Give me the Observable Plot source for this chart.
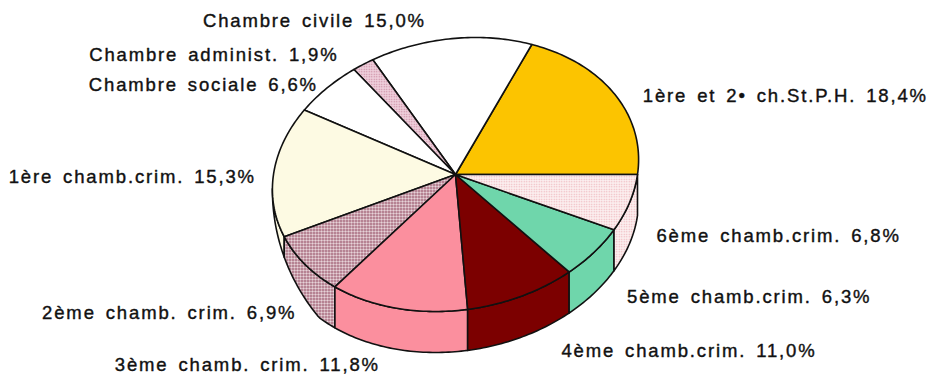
<!DOCTYPE html>
<html><head><meta charset="utf-8">
<style>html,body{margin:0;padding:0;background:#fff}</style>
<script src="https://cdn.jsdelivr.net/npm/d3@7"></script>
<script src="https://cdn.jsdelivr.net/npm/@observablehq/plot@0.6"></script>
</head><body><div id="c"></div>
<script>
// Data: label text and printed value of each slice, in counter-clockwise order from 3 o'clock
const names = ["1ère et 2• ch.St.P.H.","Chambre civile","Chambre administ.","Chambre sociale","1ère chamb.crim.","2ème chamb. crim.","3ème chamb. crim.","4ème chamb.crim.","5ème chamb.crim.","6ème chamb.crim."];
const printed = ["18,4","15,0","1,9","6,6","15,3","6,9","11,8","11,0","6,3","6,8"];
// Share of the disc each slice actually occupies in the picture (slightly differs from the printed value)
const drawnShare = [19.9,14.3,1.9,6.1,15.3,7.8,12.5,9.6,6.0,6.6];

// Styling and layout, separate from the data
const fills = ["#fcc400","#ffffff","url(#fine)","#ffffff","#fdfae3","url(#coarse)","#fb8f9e","#7c0000","#6fd6ab","url(#soft)"];
const labelDx = [28,-249,-274,-238,-265,-263,-282,40,33,27];
const labelDy = [2,-18,-9,-3,4,49,57,55,45,33];
const cx = 455, cy = 174, rx = 182, ry = 137, shear = 20, depth = 41;
const rad = d => d * Math.PI / 180;
const rim = t => ({x: cx + rx * Math.cos(rad(t)) + shear * Math.sin(rad(t)), y: cy - ry * Math.sin(rad(t))});
const wallDepth = t => depth * Math.min(1, Math.max(0, (t - 186) / 42));
const low = t => { const p = rim(t); return {x: p.x, y: p.y + wallDepth(t)}; };
const steps = (a, b) => { const n = Math.max(1, Math.ceil(Math.abs(b - a))); return d3.range(n + 1).map(i => a + (b - a) * i / n); };

let acc = 0;
const slices = drawnShare.map((s, i) => { const a = acc * 3.6; acc += s; return {i, a, b: acc * 3.6, mid: (a + acc * 3.6) / 2}; });

const lineOpts = {x: "x", y: "y", stroke: "#111", strokeWidth: 1.6, strokeLinejoin: "round"};
const marks = [];
// side wall
for (const s of slices) {
  const a = Math.max(s.a, 186), b = s.b;
  if (b <= 186) continue;
  const ts = steps(a, b);
  const poly = [...ts.map(rim), ...ts.slice().reverse().map(low)];
  poly.push(poly[0]);
  marks.push(Plot.line(poly, {...lineOpts, fill: fills[s.i]}));
}
// top faces
for (const s of slices) {
  const poly = [{x: cx, y: cy}, ...steps(s.a, s.b).map(rim), {x: cx, y: cy}];
  marks.push(Plot.line(poly, {...lineOpts, fill: fills[s.i]}));
}
// labels
const labels = slices.map(s => {
  const p = rim(s.mid);
  return {x: p.x + labelDx[s.i], y: p.y + labelDy[s.i], text: `${names[s.i]} ${printed[s.i]}%`};
});
marks.push(Plot.text(labels, {x: "x", y: "y", text: "text", textAnchor: "start", fontSize: 18.5, fontFamily: "Liberation Sans", fill: "#111", stroke: "#111", strokeWidth: 0.4}));

const plot = Plot.plot({
  width: 932, height: 376, margin: 0,
  x: {domain: [0, 932], range: [0, 932], axis: null},
  y: {domain: [0, 376], range: [0, 376], axis: null},
  style: {background: "#fff", letterSpacing: "1.85px", wordSpacing: "3px", overflow: "visible"},
  marks
});
const pat = (id, size, bg, dot, r) => `<pattern id="${id}" width="${size}" height="${size}" patternUnits="userSpaceOnUse"><rect width="${size}" height="${size}" fill="${bg}"/><circle cx="${size/2}" cy="${size/2}" r="${r}" fill="${dot}"/></pattern>`;
const defs = document.createElementNS("http://www.w3.org/2000/svg", "defs");
defs.innerHTML = pat("coarse", 3, "#f2e6e9", "#7a1f3c", 1.05) + pat("fine", 2.5, "#efd0dc", "#c8849c", 0.7) + pat("soft", 2.5, "#fcf0f0", "#eeb0b8", 0.7);
plot.insertBefore(defs, plot.firstChild);
document.getElementById("c").appendChild(plot);
</script></body></html>
